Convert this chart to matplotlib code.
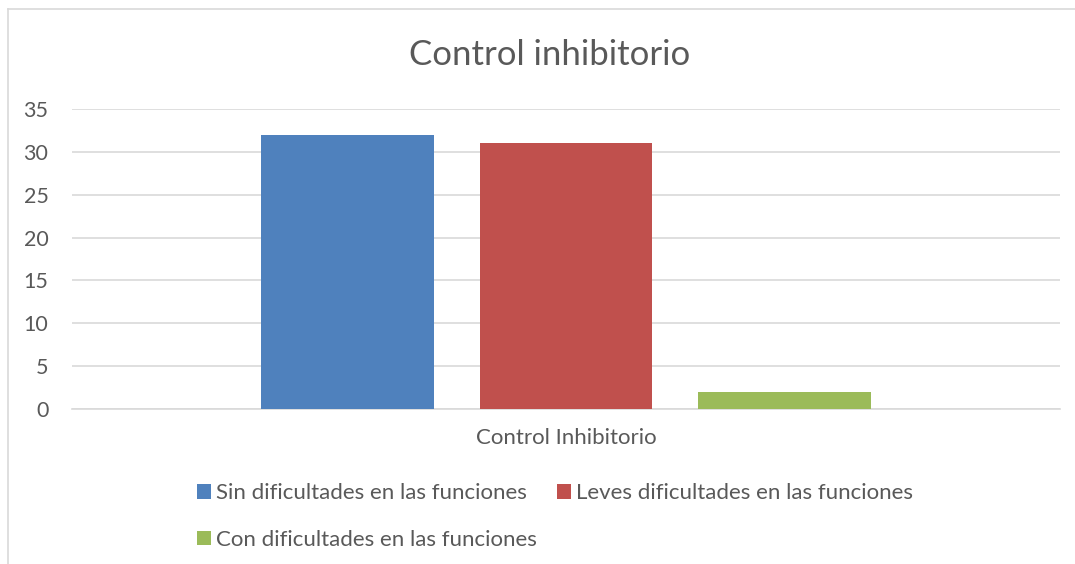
import matplotlib.pyplot as plt
from matplotlib.lines import Line2D
import numpy as np

# Control inhibitorio - single category, three groups
categoria = ['Control Inhibitorio']
series = ['Sin dificultades en las funciones',
          'Leves dificultades en las funciones',
          'Con dificultades en las funciones']
valores = [32, 31, 2]
colores = ['#4F81BD', '#C0504D', '#9BBB59']
yticks = [0, 5, 10, 15, 20, 25, 30, 35]

plt.rcParams['font.family'] = ['Lato', 'DejaVu Sans']
gris = '#595959'

fig = plt.figure(figsize=(10.75, 5.64), dpi=100)
ax = fig.add_axes([0.067, 0.2748, 0.919, 0.532])

x = np.arange(len(categoria))
ancho = 0.175
offsets = [-0.2215, 0.0, 0.2215]
barras = []
for nombre, val, col, off in zip(series, valores, colores, offsets):
	b = ax.bar(x + off, [val], width=ancho, color=col, label=nombre, zorder=3)
	barras.append(b)

ax.set_xlim(-0.5, 0.5)
ax.set_ylim(0, 35)
ax.set_yticks(yticks)
ax.set_xticks(x)
ax.set_xticklabels(categoria)
ax.grid(axis='y', color='#d9d9d9', linewidth=1.2, zorder=0)
for s in ['top', 'right', 'left']:
	ax.spines[s].set_visible(False)
ax.spines['bottom'].set_color('#d9d9d9')
ax.spines['bottom'].set_linewidth(1.2)
ax.tick_params(axis='both', length=0, colors=gris)
ax.tick_params(axis='y', pad=17, labelsize=15.5)
ax.tick_params(axis='x', pad=14, labelsize=16)

fig.text(0.511, 0.903, 'Control inhibitorio', ha='center', va='center',
	fontsize=25, color=gris)

# legend wraps in row-major order like the original
h = [barras[0], barras[2], barras[1]]
l = [series[0], series[2], series[1]]
fig.legend(h, l, loc='upper left', bbox_to_anchor=(0.1833, 0.143), ncol=2,
	frameon=False, fontsize=16, labelcolor=gris, handlelength=0.62,
	handleheight=0.62, handletextpad=0.25, columnspacing=0.88, labelspacing=1.18,
	borderaxespad=0, borderpad=0)

# outer chart border (left and top edges visible)
fig.add_artist(Line2D([0.0075, 0.0075], [0.0, 0.984], color='#d9d9d9', lw=1.2))
fig.add_artist(Line2D([0.0075, 1.0], [0.984, 0.984], color='#d9d9d9', lw=1.2))

fig.savefig('out.png', dpi=100)
